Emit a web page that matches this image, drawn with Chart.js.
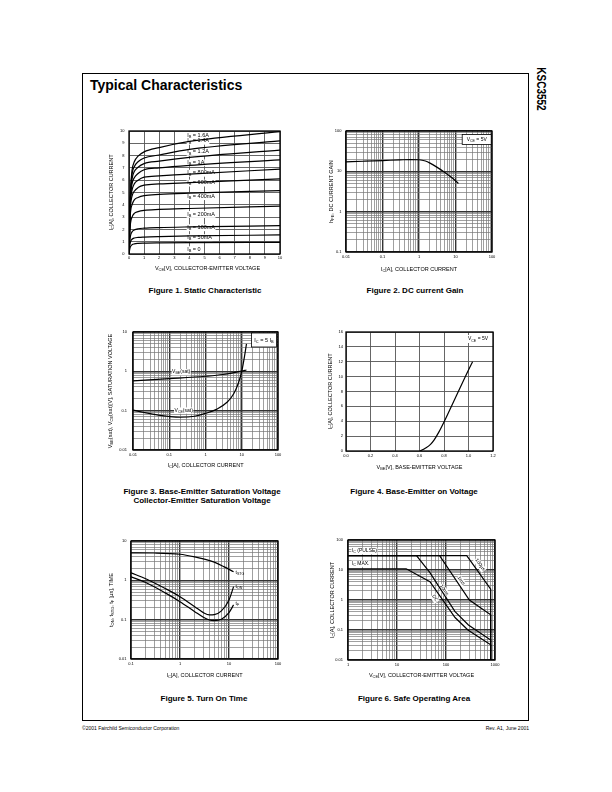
<!DOCTYPE html>
<html>
<head>
<meta charset="utf-8">
<script src="https://cdn.jsdelivr.net/npm/chart.js@4.4.1/dist/chart.umd.min.js"></script>
<style>
  body { margin: 0; background: #fff; font-family: "Liberation Sans", Arial, sans-serif; color: #000; }
  #page { position: relative; width: 612px; height: 792px; overflow: hidden; }
  .frame { position: absolute; left: 82px; top: 73px; width: 447px; height: 648px; border: 1px solid #000; box-sizing: border-box; }
  .title { position: absolute; left: 90px; top: 78px; font-size: 14px; font-weight: bold; line-height: 1; }
  .side { position: absolute; left: 519px; top: 83px; width: 44px; font-size: 10px; font-weight: bold; line-height: 12px;
          transform: rotate(90deg) scale(1, 1.2); transform-origin: 50% 50%; text-align: center; }
  .cap { position: absolute; width: 220px; font-size: 8px; font-weight: bold; text-align: center; line-height: 9px; }
  .foot { position: absolute; top: 725px; font-size: 5px; line-height: 6px; }
  canvas { position: absolute; }
</style>
</head>
<body>
<div id="page">
  <div class="frame"></div>
  <div class="title">Typical Characteristics</div>
  <div class="side">KSC3552</div>

  <canvas id="fig1"></canvas>
  <canvas id="fig2"></canvas>
  <canvas id="fig3"></canvas>
  <canvas id="fig4"></canvas>
  <canvas id="fig5"></canvas>
  <canvas id="fig6"></canvas>

  <div class="cap" style="left:95px;top:286px">Figure 1. Static Characteristic</div>
  <div class="cap" style="left:305px;top:286px">Figure 2. DC current Gain</div>
  <div class="cap" style="left:92px;top:487px">Figure 3. Base-Emitter Saturation Voltage<br>Collector-Emitter Saturation Voltage</div>
  <div class="cap" style="left:304px;top:487px">Figure 4. Base-Emitter on Voltage</div>
  <div class="cap" style="left:94px;top:694px">Figure 5. Turn On Time</div>
  <div class="cap" style="left:304px;top:694px">Figure 6. Safe Operating Area</div>

  <div class="foot" style="left:82px">©2001 Fairchild Semiconductor Corporation</div>
  <div class="foot" style="right:83px">Rev. A1, June 2001</div>
</div>

<script>
// ---- Figure 1: static characteristic (IC vs VCE for each IB)
const fig1Vce = [0, 0.05, 0.1, 0.2, 0.35, 0.6, 1, 2, 4, 10];
const fig1Curves = [
  [0, 3.2, 5.2, 6.8, 7.5, 7.95, 8.3, 8.65, 9.15, 9.95],   // 1.6A
  [0, 3.1, 5.0, 6.5, 7.1, 7.5, 7.8, 8.05, 8.5, 9.2],      // 1.4A
  [0, 3.0, 4.8, 6.1, 6.7, 7.05, 7.35, 7.55, 7.85, 8.45],  // 1.2A
  [0, 2.9, 4.6, 5.7, 6.2, 6.55, 6.85, 7.0, 7.2, 7.65],    // 1A
  [0, 2.7, 4.3, 5.2, 5.7, 6.0, 6.25, 6.35, 6.5, 6.9],     // 800mA
  [0, 2.5, 3.9, 4.7, 5.1, 5.4, 5.6, 5.7, 5.8, 6.1],       // 600mA
  [0, 2.2, 3.4, 4.0, 4.4, 4.6, 4.75, 4.85, 4.95, 5.15],   // 400mA
  [0, 1.6, 2.5, 3.0, 3.3, 3.45, 3.55, 3.62, 3.7, 3.9],    // 200mA
  [0, 1.0, 1.5, 1.8, 1.95, 2.05, 2.1, 2.15, 2.2, 2.3],    // 100mA
  [0, 0.7, 1.0, 1.2, 1.3, 1.35, 1.38, 1.42, 1.47, 1.55],  // 50mA
  [0, 0.4, 0.6, 0.75, 0.82, 0.86, 0.88, 0.9, 0.92, 0.95]  // 0
];
const fig1Names = ['I{B} = 1.6A', 'I{B} = 1.4A', 'I{B} = 1.2A', 'I{B} = 1A', 'I{B} = 800mA', 'I{B} = 600mA',
                   'I{B} = 400mA', 'I{B} = 200mA', 'I{B} = 100mA', 'I{B} = 50mA', 'I{B} = 0'];
const fig1NameY = [9.67, 9.2, 8.3, 7.45, 6.6, 5.8, 4.7, 3.25, 2.17, 1.36, 0.38];

// ---- Figure 2: DC current gain
const fig2Ic = [0.01, 0.03, 0.1, 0.3, 0.6, 1, 1.5, 2, 3, 5, 8, 12];
const fig2Hfe = [17.2, 17.8, 18.5, 19.2, 19.6, 19.4, 18.0, 16.0, 12.9, 9.5, 6.9, 5.0];

// ---- Figure 3: saturation voltages
const fig3IcBe = [0.01, 0.1, 1, 3, 10, 13.5];
const fig3Vbe = [0.57, 0.65, 0.75, 0.83, 1.02, 1.08];
const fig3IcCe = [0.01, 0.02, 0.05, 0.1, 0.2, 0.5, 1, 2, 4, 6, 8, 10, 12, 13.5];
const fig3Vce = [0.103, 0.09, 0.077, 0.071, 0.068, 0.072, 0.085, 0.108, 0.166, 0.27, 0.49, 1.0, 2.5, 5.0];

// ---- Figure 4: base-emitter on voltage
const fig4Vbe = [0.605, 0.65, 0.69, 0.72, 0.76, 0.8, 0.9, 1.0, 1.033];
const fig4Ic = [0, 0.4, 0.9, 1.5, 2.6, 3.9, 7.4, 10.9, 12.0];

// ---- Figure 5: switching times
const fig5IcStg = [0.1, 0.3, 1, 2, 3, 5, 8, 12.4];
const fig5Tstg = [5.0, 4.95, 4.6, 3.95, 3.5, 2.9, 2.2, 1.65];
const fig5Ic = [0.1, 0.2, 0.5, 1, 2, 3, 4, 5, 7, 10, 12.4];
const fig5Ton = [1.55, 1.1, 0.62, 0.384, 0.214, 0.151, 0.132, 0.134, 0.167, 0.316, 0.69];
const fig5Tf = [1.23, 0.88, 0.48, 0.287, 0.16, 0.115, 0.098, 0.095, 0.103, 0.151, 0.237];

// ---- Figure 6: safe operating area
const fig6Curves = [
  { v: [1, 265, 817, 817], i: [30, 30, 2.3, 0.01] },
  { v: [1, 74, 300, 817, 817], i: [30, 30, 1.0, 0.32, 0.01] },
  { v: [1, 25, 47, 153, 287, 817, 817], i: [30, 30, 8.2, 0.41, 0.147, 0.046, 0.01] },
  { v: [1, 15.4, 47, 153, 280, 817, 817], i: [11, 11, 4.1, 0.26, 0.1, 0.032, 0.01] }
];
const fig6Names = ['100µs', '1ms', '10ms', 'DC'];
const fig6NameV = [496, 203, 92, 60];
const fig6NameI = [15.1, 4.4, 2.15, 1.14];

// tick labels
const decadeText = { 0.01: '0.01', 0.1: '0.1', 1: '1', 10: '10', 100: '100', 1000: '1000' };
const fig1Ticks = [0, 1, 2, 3, 4, 5, 6, 7, 8, 9, 10];
const fig4XTicks = ['0.0', '0.2', '0.4', '0.6', '0.8', '1.0', '1.2'];
const fig4YTicks = [0, 2, 4, 6, 8, 10, 12, 14, 16];

const FONT = '"Liberation Sans", Arial, sans-serif';

function logGrid(min, max) {
  const out = [];
  for (let e = Math.round(Math.log10(min)); e < Math.round(Math.log10(max)); e++) {
    for (let m = 1; m < 10; m++) out.push(+(m * Math.pow(10, e)).toPrecision(3));
  }
  out.push(max);
  return out;
}
function isDecade(v) {
  const l = Math.log10(v);
  return Math.abs(l - Math.round(l)) < 1e-6;
}

// text with {sub} parts
function richText(ctx, str, x, y, size, align, weight) {
  const parts = str.split(/(\{[^}]*\})/).filter(p => p).map(p =>
    p[0] === '{' ? { t: p.slice(1, -1), s: size * 0.72, dy: size * 0.3 } : { t: p, s: size, dy: 0 });
  let w = 0;
  parts.forEach(p => { ctx.font = (weight || '') + ' ' + p.s + 'px ' + FONT; p.w = ctx.measureText(p.t).width; w += p.w; });
  let cx = align === 'center' ? x - w / 2 : align === 'right' ? x - w : x;
  ctx.textAlign = 'left';
  ctx.textBaseline = 'middle';
  parts.forEach(p => {
    ctx.font = (weight || '') + ' ' + p.s + 'px ' + FONT;
    ctx.fillText(p.t, cx, y + p.dy);
    cx += p.w;
  });
  return w;
}

function textWidth(ctx, str, size) {
  let w = 0;
  str.split(/(\{[^}]*\})/).filter(p => p).forEach(p => {
    const sub = p[0] === '{';
    ctx.font = (sub ? size * 0.72 : size) + 'px ' + FONT;
    w += ctx.measureText(sub ? p.slice(1, -1) : p).width;
  });
  return w;
}

const sheetDecor = {
  id: 'sheetDecor',
  beforeDatasetsDraw(chart, args, o) {
    const ctx = chart.ctx, xs = chart.scales.x, ys = chart.scales.y;
    (o.notes || []).forEach(n => {
      const size = n.size || 5.5, align = n.align || 'left';
      const px = xs.getPixelForValue(n.x), py = ys.getPixelForValue(n.y);
      ctx.save();
      ctx.translate(px, py);
      if (n.rot) ctx.rotate(n.rot * Math.PI / 180);
      const w = textWidth(ctx, n.text, size);
      if (n.bg !== false) {
        ctx.fillStyle = '#fff';
        const x0 = align === 'center' ? -w / 2 : align === 'right' ? -w : 0;
        ctx.fillRect(x0 - 0.5, -size * 0.55, w + 1, size * 1.25);
      }
      ctx.fillStyle = '#000';
      richText(ctx, n.text, 0, 0, size, align);
      ctx.restore();
    });
  },
  afterDraw(chart, args, o) {
    const ctx = chart.ctx, a = chart.chartArea;
    ctx.save();
    if (o.box) {
      const b = o.box;
      const x1 = a.right - b.inset, y0 = a.top + b.top;
      ctx.fillStyle = '#fff';
      ctx.fillRect(x1 - b.w, y0, b.w, b.h);
      if (b.border) {
        ctx.strokeStyle = '#000';
        ctx.lineWidth = 0.8;
        ctx.strokeRect(x1 - b.w, y0, b.w, b.h);
      }
      ctx.fillStyle = '#000';
      richText(ctx, b.text, x1 - b.w / 2, y0 + b.h / 2, b.size, 'center');
    }
    ctx.strokeStyle = '#000';
    ctx.lineWidth = 1.3;
    ctx.strokeRect(a.left, a.top, a.right - a.left, a.bottom - a.top);
    ctx.fillStyle = '#000';
    richText(ctx, o.xTitle, (a.left + a.right) / 2 + (o.xShift || 0), a.bottom + o.xGap, 5.5, 'center');
    ctx.translate(a.left - o.yGap, (a.top + a.bottom) / 2);
    ctx.rotate(-Math.PI / 2);
    richText(ctx, o.yTitle, 0, 0, 5.5, 'center');
    ctx.restore();
  }
};

function axis(spec, dir) {
  const s = spec[dir];
  const log = s.type === 'logarithmic';
  return {
    type: s.type, min: s.min, max: s.max,
    afterFit: sc => { if (dir === 'x') sc.height = 30; else sc.width = 40; },
    afterBuildTicks: sc => { sc.ticks = s.grid.map(v => ({ value: v })); },
    ticks: {
      autoSkip: false, maxRotation: 0, minRotation: 0,
      padding: s.pad, color: '#000',
      font: { size: 4, family: FONT },
      callback: (v, i) => s.label(v, i)
    },
    grid: {
      drawTicks: false,
      color: c => (log && c.tick && isDecade(c.tick.value)) ? '#333' : (log ? '#777' : '#555'),
      lineWidth: c => (log && c.tick && isDecade(c.tick.value)) ? 1.4 : (log ? 0.7 : 0.9)
    },
    border: { display: false }
  };
}

function makeChart(id, plot, spec) {
  const cv = document.getElementById(id);
  cv.width = plot.w + 55;
  cv.height = plot.h + 40;
  cv.style.left = (plot.x - 40) + 'px';
  cv.style.top = (plot.y - 10) + 'px';
  new Chart(cv, {
    type: 'line',
    data: {
      datasets: spec.series.map(s => ({
        data: s.x.map((x, k) => ({ x: x, y: s.y[k] })),
        borderColor: '#000',
        borderWidth: 1.2,
        pointRadius: 0,
        fill: false,
        cubicInterpolationMode: spec.smooth ? 'monotone' : 'default',
        tension: 0
      }))
    },
    options: {
      responsive: false, animation: false, devicePixelRatio: 1,
      layout: { padding: { left: 0, top: 10, right: 15, bottom: 0 } },
      plugins: { legend: { display: false }, tooltip: { enabled: false }, sheetDecor: spec.decor },
      scales: { x: axis(spec, 'x'), y: axis(spec, 'y') }
    },
    plugins: [sheetDecor]
  });
}

const decLabel = v => isDecade(v) ? (decadeText[+v.toPrecision(3)] || '') : '';

// Figure 1
makeChart('fig1', { x: 129, y: 131, w: 151, h: 123 }, {
  smooth: true,
  series: fig1Curves.map(c => ({ x: fig1Vce, y: c })),
  x: { type: 'linear', min: 0, max: 10, grid: fig1Ticks, pad: 1.2, label: v => String(v) },
  y: { type: 'linear', min: 0, max: 10, grid: fig1Ticks, pad: 4.5, label: v => String(v) },
  decor: {
    xTitle: 'V{CE}[V], COLLECTOR-EMITTER VOLTAGE', xGap: 14.5, xShift: 3,
    yTitle: 'I{C}[A], COLLECTOR CURRENT', yGap: 18,
    notes: fig1Names.map((t, k) => ({ text: t, x: 3.85, y: fig1NameY[k] }))
  }
});

// Figure 2
makeChart('fig2', { x: 346, y: 131, w: 146, h: 121 }, {
  smooth: true,
  series: [{ x: fig2Ic, y: fig2Hfe }],
  x: { type: 'logarithmic', min: 0.01, max: 100, grid: logGrid(0.01, 100), pad: 2, label: decLabel },
  y: { type: 'logarithmic', min: 0.1, max: 100, grid: logGrid(0.1, 100), pad: 4.5, label: decLabel },
  decor: {
    xTitle: 'I{C}[A], COLLECTOR CURRENT', xGap: 17.5,
    yTitle: 'h{FE}, DC CURRENT GAIN', yGap: 14.5,
    box: { text: 'V{CE} = 5V', w: 29, h: 10, top: 3.5, inset: 0.8, size: 5, border: true }
  }
});

// Figure 3
makeChart('fig3', { x: 133, y: 332, w: 145, h: 118 }, {
  smooth: true,
  series: [{ x: fig3IcBe, y: fig3Vbe }, { x: fig3IcCe, y: fig3Vce }],
  x: { type: 'logarithmic', min: 0.01, max: 100, grid: logGrid(0.01, 100), pad: 2, label: decLabel },
  y: { type: 'logarithmic', min: 0.01, max: 10, grid: logGrid(0.01, 10), pad: 6, label: decLabel },
  decor: {
    xTitle: 'I{C}[A], COLLECTOR CURRENT', xGap: 15.5,
    yTitle: 'V{BE}(sat), V{CE}(sat)[V], SATURATION VOLTAGE', yGap: 23,
    notes: [{ text: 'V{BE}(sat)', x: 0.12, y: 0.97, size: 5 }, { text: 'V{CE}(sat)', x: 0.14, y: 0.103, size: 5 }],
    box: { text: 'I{C} = 5 I{B}', w: 25, h: 14, top: 1, inset: 1.5, size: 5.5, border: true }
  }
});

// Figure 4
makeChart('fig4', { x: 346, y: 332, w: 147, h: 119 }, {
  smooth: true,
  series: [{ x: fig4Vbe, y: fig4Ic }],
  x: { type: 'linear', min: 0, max: 1.2, grid: fig4XTicks.map(Number), pad: 2, label: (v, i) => fig4XTicks[i] },
  y: { type: 'linear', min: 0, max: 16, grid: fig4YTicks, pad: 3, label: v => String(v) },
  decor: {
    xTitle: 'V{BE}[V], BASE-EMITTER VOLTAGE', xGap: 16.5,
    yTitle: 'I{C}[A], COLLECTOR CURRENT', yGap: 16,
    box: { text: 'V{CE} = 5V', w: 24, h: 8, top: 3, inset: 3, size: 5, border: false }
  }
});

// Figure 5
makeChart('fig5', { x: 131, y: 541, w: 147, h: 118 }, {
  smooth: true,
  series: [{ x: fig5IcStg, y: fig5Tstg }, { x: fig5Ic, y: fig5Ton }, { x: fig5Ic, y: fig5Tf }],
  x: { type: 'logarithmic', min: 0.1, max: 100, grid: logGrid(0.1, 100), pad: 2, label: decLabel },
  y: { type: 'logarithmic', min: 0.01, max: 10, grid: logGrid(0.01, 10), pad: 4.5, label: decLabel },
  decor: {
    xTitle: 'I{C}[A], COLLECTOR CURRENT', xGap: 16.5,
    yTitle: 't{ON}, t{STG}, t{F} [µs], TIME', yGap: 20,
    notes: [{ text: 't{STG}', x: 13.6, y: 1.6, size: 5, bg: false },
            { text: 't{ON}', x: 13.6, y: 0.68, size: 5, bg: false },
            { text: 't{F}', x: 13.6, y: 0.26, size: 5, bg: false }]
  }
});

// Figure 6
makeChart('fig6', { x: 348, y: 540, w: 147, h: 120 }, {
  smooth: false,
  series: fig6Curves.map(c => ({ x: c.v, y: c.i })),
  x: { type: 'logarithmic', min: 1, max: 1000, grid: logGrid(1, 1000), pad: 2, label: decLabel },
  y: { type: 'logarithmic', min: 0.01, max: 100, grid: logGrid(0.01, 100), pad: 5, label: decLabel },
  decor: {
    xTitle: 'V{CE}[V], COLLECTOR-EMITTER VOLTAGE', xGap: 15.5,
    yTitle: 'I{C}[A], COLLECTOR CURRENT', yGap: 16,
    notes: [{ text: 'I{C} (PULSE)', x: 1.2, y: 44, size: 5 }, { text: 'I{C} MAX.', x: 1.2, y: 16.7, size: 5 }]
      .concat(fig6Names.map((t, k) => ({ text: t, x: fig6NameV[k], y: fig6NameI[k], size: 5, rot: 56, align: 'center' })))
  }
});
</script>
</body>
</html>
